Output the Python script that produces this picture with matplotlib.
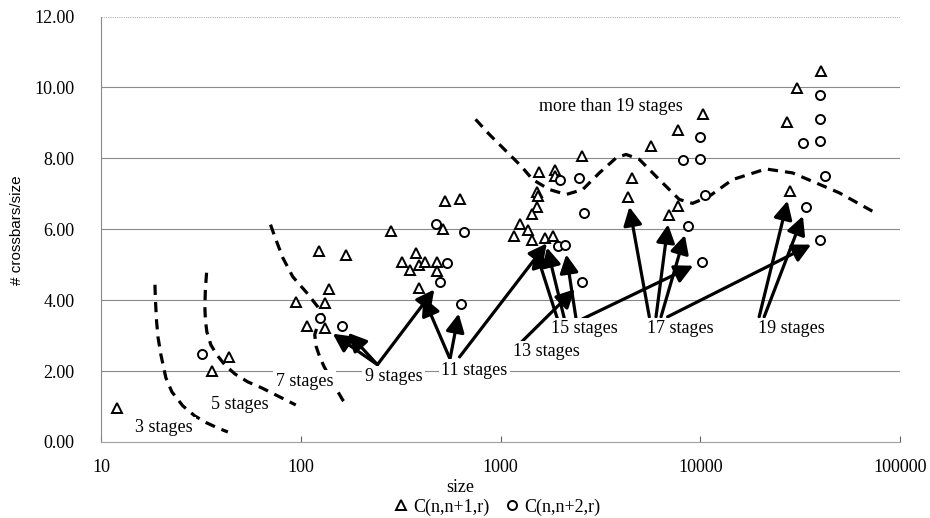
import matplotlib
matplotlib.use("Agg")
import matplotlib.pyplot as plt
from matplotlib.lines import Line2D

# ---------------- data ----------------
tri_x = [12.0, 35.9, 43.8, 123.5, 169, 138, 95, 132, 107.5, 132, 284, 379, 322, 353, 393, 421,
         480, 480, 393, 515, 525, 624, 2563, 1567, 1884, 1884, 1519, 1537, 1519, 1439, 1245,
         1175, 1380, 1439, 1665, 1826, 4555, 4330, 40140, 30450, 27140, 10270, 7700, 5669,
         7700, 7000, 28090]
tri_y = [0.96, 2.0, 2.41, 5.38, 5.28, 4.32, 3.95, 3.92, 3.26, 3.21, 5.96, 5.33, 5.09, 4.86, 5.0, 5.09,
         5.07, 4.83, 4.34, 6.01, 6.79, 6.84, 8.06, 7.61, 7.66, 7.51, 7.04, 6.95, 6.62, 6.43, 6.16,
         5.80, 5.99, 5.71, 5.75, 5.82, 7.45, 6.90, 10.46, 9.97, 9.02, 9.24, 8.81, 8.34,
         6.65, 6.41, 7.07]

circ_x = [31.9, 124.5, 160, 473, 655, 539, 499, 631, 1980, 2483, 2609, 1941, 2097, 2550,
          39680, 39680, 39680, 32730, 42170, 34000, 39680, 10000, 10000, 8155, 10590, 8640, 10200]
circ_y = [2.48, 3.49, 3.28, 6.15, 5.92, 5.05, 4.52, 3.89, 7.40, 7.45, 6.46, 5.52, 5.56, 4.50,
          9.80, 9.10, 8.48, 8.42, 7.51, 6.63, 5.69, 8.61, 7.99, 7.95, 6.98, 6.10, 5.09]

# dashed boundary curves (hand drawn in the original)
c3_x = [18.62, 18.73, 18.95, 19.28, 19.95, 21.13, 22.65, 25.70, 29.51, 33.88, 38.46, 43.15]
c3_y = [4.435, 4.011, 3.446, 2.966, 2.458, 1.808, 1.412, 1.017, 0.734, 0.537, 0.395, 0.282]
c5_x = [33.77, 33.30, 33.11, 33.30, 33.88, 35.48, 38.02, 41.69, 46.77, 54.33, 63.83, 78.52, 94.41]
c5_y = [4.774, 4.294, 3.814, 3.446, 3.107, 2.740, 2.458, 2.175, 1.921, 1.695, 1.525, 1.271, 1.045]
c7_x = [70.56, 74.13, 81.28, 91.20, 107.15, 121.62, 128.82, 121.62, 117.49, 119.57, 124.45,
        130.32, 144.54, 162.18, 171.79]
c7_y = [6.130, 5.791, 5.198, 4.661, 4.209, 3.814, 3.559, 3.305, 3.023, 2.684, 2.401,
        2.147, 1.667, 1.186, 1.017]
c19_x = [750, 881, 1047, 1269, 1450, 1758, 2131, 2580, 3126, 3789, 4252, 4955, 6237, 7852,
         9152, 11092, 14505, 21306, 28940, 37890, 49550, 72700]
c19_y = [9.10, 8.67, 8.25, 7.78, 7.40, 7.12, 6.98, 7.12, 7.59, 8.01, 8.11, 7.97, 7.40, 6.84,
         6.73, 6.93, 7.40, 7.70, 7.59, 7.31, 7.03, 6.51]

# stage labels
label_text = ["3 stages", "5 stages", "7 stages", "9 stages", "11 stages", "13 stages",
              "15 stages", "17 stages", "19 stages", "more than 19 stages"]
label_x = [20.7, 49.5, 104.7, 292, 741, 1698, 2630, 7943, 28510, 3589]
label_y = [0.40, 1.07, 1.72, 1.84, 2.03, 2.54, 3.19, 3.19, 3.19, 9.46]

# arrows: tail (at label) -> point
arrow_tail_x = [242, 242, 242, 556, 560, 624, 1274, 1928, 2089, 2390, 2570,
                5559, 6005, 6362, 6864, 19720, 20890]
arrow_tail_y = [2.18, 2.18, 2.18, 2.37, 2.37, 2.40, 2.82, 3.47, 3.47, 3.47, 3.47,
                3.53, 3.53, 3.53, 3.53, 3.53, 3.53]
arrow_head_x = [132, 160, 499, 393, 631, 1826, 2550, 1439, 1665, 2097, 10200,
                4330, 7000, 8640, 39680, 28090, 34000]
arrow_head_y = [3.21, 3.28, 4.52, 4.34, 3.89, 5.82, 4.50, 5.71, 5.75, 5.56, 5.09,
                6.90, 6.41, 6.10, 5.69, 7.07, 6.63]

x_ticks = [10, 100, 1000, 10000, 100000]
x_ticklabels = ["10", "100", "1000", "10000", "100000"]
y_ticks = [0, 2, 4, 6, 8, 10, 12]

# ---------------- figure ----------------
SERIF = ["Liberation Serif", "DejaVu Serif"]
plt.rcParams["font.family"] = SERIF
FS = 13

fig = plt.figure(figsize=(9.3, 5.18), dpi=100)
ax = fig.add_axes([101 / 930, 1 - 442 / 518, 799 / 930, 425.5 / 518])
ax.set_xscale("log")
ax.set_xlim(10, 100000)
ax.set_ylim(0, 12)

# grid lines
for v in y_ticks[1:-1]:
    ax.axhline(v, color="#8a8a8a", lw=0.8, zorder=1)
ax.axhline(12, color="#b0b0b0", lw=0.8, ls=(0, (1, 1)), zorder=1)

for s in ["top", "right"]:
    ax.spines[s].set_visible(False)
ax.spines["left"].set_color("#8a8a8a")
ax.spines["bottom"].set_color("#a0a0a0")
ax.spines["left"].set_linewidth(0.8)
ax.spines["bottom"].set_linewidth(0.8)

ax.set_xticks(x_ticks)
ax.set_xticklabels(x_ticklabels)
ax.xaxis.set_minor_locator(matplotlib.ticker.NullLocator())
ax.set_yticks(y_ticks)
ax.set_yticklabels(["%.2f" % v for v in y_ticks])
ax.tick_params(axis="x", direction="in", length=4, color="#606060", pad=12, labelsize=FS)
ax.tick_params(axis="y", length=0, pad=19, labelsize=FS)

# dashed curves
dash = dict(color="black", lw=2.3, ls=(0, (3.2, 2.2)), zorder=2, dash_capstyle="butt")
for cx, cy in [(c3_x, c3_y), (c5_x, c5_y), (c7_x, c7_y), (c19_x, c19_y)]:
    ax.plot(cx, cy, **dash)

# arrows
for tx, ty, hx, hy in zip(arrow_tail_x, arrow_tail_y, arrow_head_x, arrow_head_y):
    ax.annotate("", xy=(hx, hy), xytext=(tx, ty),
                arrowprops=dict(arrowstyle="-|>,head_length=0.55,head_width=0.28",
                                color="black", lw=2.3, mutation_scale=20,
                                shrinkA=0, shrinkB=7),
                zorder=3)

# markers
ax.plot(tri_x, tri_y, ls="none", marker="^", ms=7.5, mfc="white", mec="black", mew=1.4, zorder=4)
ax.plot(circ_x, circ_y, ls="none", marker="o", ms=6.5, mfc="white", mec="black", mew=1.4, zorder=4)

# labels
for t, lx, ly in zip(label_text, label_x, label_y):
    ax.text(lx, ly, t, ha="center", va="center", fontsize=FS, zorder=5,
            bbox=dict(boxstyle="square,pad=0.15", fc="white", ec="none"))

# axis titles
fig.text(460 / 930, 1 - 487 / 518, "size", ha="center", va="center", fontsize=FS)
fig.text(17 / 930, 1 - 230 / 518, "# crossbars/size", rotation=90, ha="center", va="center",
         fontsize=11, family=["Liberation Sans", "DejaVu Sans"])

# legend
h1 = Line2D([], [], ls="none", marker="^", ms=7.5, mfc="white", mec="black", mew=1.4)
h2 = Line2D([], [], ls="none", marker="o", ms=6.5, mfc="white", mec="black", mew=1.4)
fig.legend([h1, h2], ["C(n,n+1,r)", "C(n,n+2,r)"], loc="center",
           bbox_to_anchor=(497 / 930, 1 - 507 / 518), ncol=2, frameon=False,
           fontsize=FS, handlelength=0.8, handletextpad=0.3, columnspacing=0.8,
           borderpad=0, borderaxespad=0)

fig.savefig("out.png", dpi=100)
